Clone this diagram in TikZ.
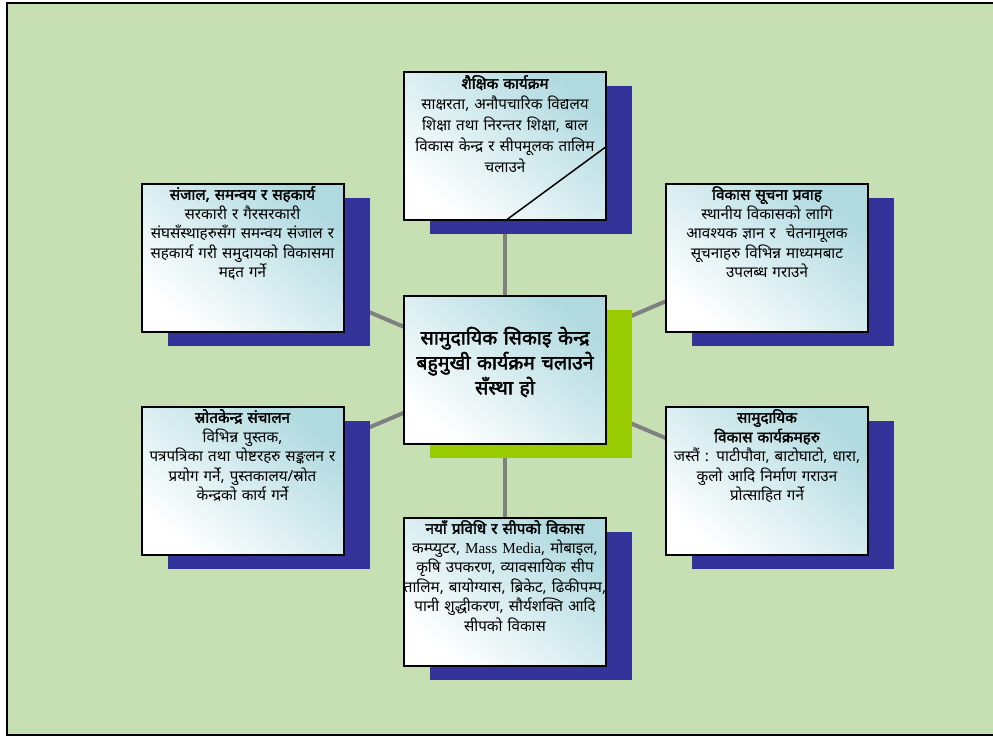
\documentclass[tikz,border=0pt]{standalone}
\usepackage{fontspec}
\newfontfamily\deva[Script=Devanagari, AutoFakeBold=2.2]{Noto Sans}
\newfontfamily\latserif{Liberation Serif}
\usetikzlibrary{shadows}
\definecolor{pagegreen}{RGB}{198,224,180}
\definecolor{navyshadow}{RGB}{51,51,153}
\definecolor{limeshadow}{RGB}{153,204,0}
\definecolor{paleteal}{RGB}{176,218,224}
\definecolor{linkgray}{RGB}{128,128,128}
\pgfdeclarelayer{paper}
\pgfdeclarelayer{links}
\pgfsetlayers{paper,links,main}
\tikzset{
  infobox/.style={draw=black, line width=2pt, minimum width=202pt, minimum height=148pt,
    inner sep=0pt, shading=axis, top color=paleteal, bottom color=white, shading angle=-40,
    general shadow={shadow xshift=26pt, shadow yshift=-14pt, fill=navyshadow, opacity=1}},
  hubbox/.style={infobox, general shadow={shadow xshift=26pt, shadow yshift=-14pt, fill=limeshadow, opacity=1}},
  boxtext/.style={anchor=north, inner sep=0pt, text width=208pt, align=center,
    font=\deva\fontsize{15.2}{19.5}\selectfont},
  hubtext/.style={anchor=center, inner sep=0pt, text width=206pt, align=center,
    font=\deva\bfseries\fontsize{19.5}{25}\selectfont},
  link/.style={draw=linkgray, line width=4pt}
}
\newcommand{\ttl}[1]{{\bfseries #1}}
\begin{document}
\begin{tikzpicture}[x=1pt,y=1pt]
\useasboundingbox (0,0) rectangle (993,-736);
\begin{pgfonlayer}{paper}
  \fill[white] (0,0) rectangle (993,-736);
  \draw[fill=pagegreen, line width=2pt] (7,-3) rectangle (1000,-735);
\end{pgfonlayer}

% boxes
\node[infobox] (top) at (505,-146) {};
\node[infobox] (tl) at (242.5,-258) {};
\node[infobox] (tr) at (767,-258) {};
\node[hubbox]  (hub) at (505,-370) {};
\node[infobox] (bl) at (242.5,-481) {};
\node[infobox] (br) at (767,-481) {};
\node[infobox] (bot) at (505,-592) {};

% spokes behind the boxes
\begin{pgfonlayer}{links}
  \foreach \n in {top,tl,tr,bl,br,bot} \draw[link] (hub.center) -- (\n.center);
\end{pgfonlayer}

\draw[line width=1.5pt] (top.south) -- (top.east);

% texts
\node[boxtext, font=\deva\fontsize{15.2}{21}\selectfont] (ttop) at ([yshift=-4pt]top.north) {\ttl{शैक्षिक कार्यक्रम}\\
  साक्षरता, अनौपचारिक विद्यलय\\ शिक्षा तथा निरन्तर शिक्षा, बाल\\ विकास केन्द्र र सीपमूलक तालिम\\ चलाउने};
\node[boxtext] (ttl) at ([yshift=-3pt]tl.north) {\ttl{संजाल, समन्वय र सहकार्य}\\
  सरकारी र गैरसरकारी\\ संघसँस्थाहरुसँग समन्वय संजाल र\\ सहकार्य गरी समुदायको विकासमा\\ मद्दत गर्ने};
\node[boxtext] (ttr) at ([yshift=-3pt]tr.north) {\ttl{विकास सूचना प्रवाह}\\
  स्थानीय विकासको लागि\\ आवश्यक ज्ञान र \ चेतनामूलक\\ सूचनाहरु विभिन्न माध्यमबाट\\ उपलब्ध गराउने};
\node[hubtext] (thub) at ([yshift=8pt]hub.center) {सामुदायिक सिकाइ केन्द्र\\ बहुमुखी कार्यक्रम चलाउने\\ सँस्था हो};
\node[boxtext] (tbl) at ([yshift=-3pt]bl.north) {\ttl{स्रोतकेन्द्र संचालन}\\
  विभिन्न पुस्तक,\\ पत्रपत्रिका तथा पोष्टरहरु सङ्कलन र\\ प्रयोग गर्ने, पुस्तकालय/स्रोत\\ केन्द्रको कार्य गर्ने};
\node[boxtext] (tbr) at ([yshift=-3pt]br.north) {\ttl{सामुदायिक}\\ \ttl{विकास कार्यक्रमहरु}\\
  जस्तैं : पाटीपौवा, बाटोघाटो, धारा,\\ कुलो आदि निर्माण गराउन\\ प्रोत्साहित गर्ने};
\node[boxtext] (tbot) at ([yshift=-3pt]bot.north) {\ttl{नयाँ प्रविधि र सीपको विकास}\\
  कम्प्युटर, {\latserif Mass Media}, मोबाइल,\\ कृषि उपकरण, व्यावसायिक सीप\\ तालिम, बायोग्यास, ब्रिकेट, ढिकीपम्प,\\ पानी शुद्धीकरण, सौर्यशक्ति आदि\\ सीपको विकास};
\end{tikzpicture}
\end{document}
